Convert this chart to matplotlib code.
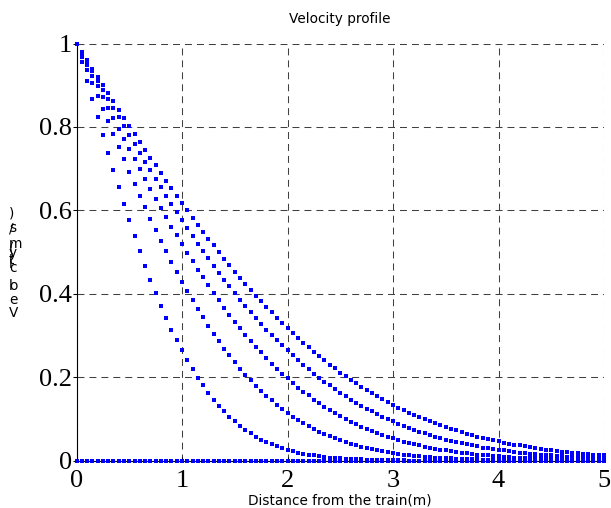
import matplotlib

matplotlib.use("Agg")
import matplotlib.pyplot as plt

plt.rcParams["font.family"] = ["DejaVu Sans"]
plt.rcParams["lines.scale_dashes"] = False

# distance from the train (m)
x_dist = [
    0.00, 0.05, 0.10, 0.15, 0.20, 0.25, 0.30, 0.35, 0.40, 0.45,
    0.50, 0.55, 0.60, 0.65, 0.70, 0.75, 0.80, 0.85, 0.90, 0.95,
    1.00, 1.05, 1.10, 1.15, 1.20, 1.25, 1.30, 1.35, 1.40, 1.45,
    1.50, 1.55, 1.60, 1.65, 1.70, 1.75, 1.80, 1.85, 1.90, 1.95,
    2.00, 2.05, 2.10, 2.15, 2.20, 2.25, 2.30, 2.35, 2.40, 2.45,
    2.50, 2.55, 2.60, 2.65, 2.70, 2.75, 2.80, 2.85, 2.90, 2.95,
    3.00, 3.05, 3.10, 3.15, 3.20, 3.25, 3.30, 3.35, 3.40, 3.45,
    3.50, 3.55, 3.60, 3.65, 3.70, 3.75, 3.80, 3.85, 3.90, 3.95,
    4.00, 4.05, 4.10, 4.15, 4.20, 4.25, 4.30, 4.35, 4.40, 4.45,
    4.50, 4.55, 4.60, 4.65, 4.70, 4.75, 4.80, 4.85, 4.90, 4.95,
    5.00,
]

# velocity profiles, one per time step
vel_0 = [
    0.000, 0.000, 0.000, 0.000, 0.000, 0.000, 0.000, 0.000, 0.000, 0.000,
    0.000, 0.000, 0.000, 0.000, 0.000, 0.000, 0.000, 0.000, 0.000, 0.000,
    0.000, 0.000, 0.000, 0.000, 0.000, 0.000, 0.000, 0.000, 0.000, 0.000,
    0.000, 0.000, 0.000, 0.000, 0.000, 0.000, 0.000, 0.000, 0.000, 0.000,
    0.000, 0.000, 0.000, 0.000, 0.000, 0.000, 0.000, 0.000, 0.000, 0.000,
    0.000, 0.000, 0.000, 0.000, 0.000, 0.000, 0.000, 0.000, 0.000, 0.000,
    0.000, 0.000, 0.000, 0.000, 0.000, 0.000, 0.000, 0.000, 0.000, 0.000,
    0.000, 0.000, 0.000, 0.000, 0.000, 0.000, 0.000, 0.000, 0.000, 0.000,
    0.000, 0.000, 0.000, 0.000, 0.000, 0.000, 0.000, 0.000, 0.000, 0.000,
    0.000, 0.000, 0.000, 0.000, 0.000, 0.000, 0.000, 0.000, 0.000, 0.000,
    0.000,
]
vel_1 = [
    1.000, 0.955, 0.911, 0.867, 0.823, 0.780, 0.737, 0.696, 0.655, 0.615,
    0.576, 0.539, 0.502, 0.467, 0.434, 0.402, 0.371, 0.342, 0.314, 0.288,
    0.264, 0.240, 0.219, 0.199, 0.180, 0.162, 0.146, 0.131, 0.118, 0.105,
    0.094, 0.083, 0.074, 0.065, 0.057, 0.050, 0.044, 0.039, 0.034, 0.029,
    0.025, 0.022, 0.019, 0.016, 0.014, 0.012, 0.010, 0.009, 0.007, 0.006,
    0.005, 0.004, 0.004, 0.003, 0.003, 0.002, 0.002, 0.001, 0.001, 0.001,
    0.001, 0.001, 0.001, 0.000, 0.000, 0.000, 0.000, 0.000, 0.000, 0.000,
    0.000, 0.000, 0.000, 0.000, 0.000, 0.000, 0.000, 0.000, 0.000, 0.000,
    0.000, 0.000, 0.000, 0.000, 0.000, 0.000, 0.000, 0.000, 0.000, 0.000,
    0.000, 0.000, 0.000, 0.000, 0.000, 0.000, 0.000, 0.000, 0.000, 0.000,
    0.000,
]
vel_2 = [
    1.000, 0.968, 0.937, 0.906, 0.874, 0.843, 0.813, 0.782, 0.752, 0.722,
    0.693, 0.664, 0.635, 0.607, 0.580, 0.553, 0.527, 0.502, 0.477, 0.453,
    0.429, 0.407, 0.385, 0.363, 0.343, 0.323, 0.304, 0.286, 0.268, 0.252,
    0.236, 0.220, 0.206, 0.192, 0.179, 0.167, 0.155, 0.144, 0.133, 0.123,
    0.114, 0.105, 0.097, 0.089, 0.082, 0.075, 0.069, 0.063, 0.058, 0.053,
    0.048, 0.044, 0.040, 0.036, 0.033, 0.030, 0.027, 0.024, 0.022, 0.020,
    0.018, 0.016, 0.014, 0.013, 0.011, 0.010, 0.009, 0.008, 0.007, 0.006,
    0.006, 0.005, 0.004, 0.004, 0.003, 0.003, 0.003, 0.002, 0.002, 0.002,
    0.002, 0.001, 0.001, 0.001, 0.001, 0.001, 0.001, 0.001, 0.000, 0.000,
    0.000, 0.000, 0.000, 0.000, 0.000, 0.000, 0.000, 0.000, 0.000, 0.000,
    0.000,
]
vel_3 = [
    1.000, 0.974, 0.949, 0.923, 0.897, 0.872, 0.846, 0.821, 0.796, 0.771,
    0.747, 0.723, 0.699, 0.675, 0.651, 0.628, 0.606, 0.583, 0.561, 0.540,
    0.519, 0.498, 0.478, 0.458, 0.439, 0.420, 0.401, 0.384, 0.366, 0.349,
    0.333, 0.317, 0.302, 0.287, 0.273, 0.259, 0.245, 0.232, 0.220, 0.208,
    0.197, 0.186, 0.175, 0.165, 0.156, 0.146, 0.138, 0.129, 0.121, 0.114,
    0.107, 0.100, 0.093, 0.087, 0.081, 0.076, 0.071, 0.066, 0.061, 0.057,
    0.053, 0.049, 0.045, 0.042, 0.039, 0.036, 0.033, 0.031, 0.028, 0.026,
    0.024, 0.022, 0.020, 0.018, 0.017, 0.015, 0.014, 0.013, 0.012, 0.011,
    0.010, 0.009, 0.008, 0.007, 0.007, 0.006, 0.006, 0.005, 0.005, 0.004,
    0.004, 0.003, 0.003, 0.003, 0.002, 0.002, 0.002, 0.002, 0.002, 0.001,
    0.001,
]
vel_4 = [
    1.000, 0.978, 0.955, 0.933, 0.911, 0.889, 0.867, 0.845, 0.823, 0.801,
    0.780, 0.759, 0.737, 0.716, 0.696, 0.675, 0.655, 0.635, 0.615, 0.595,
    0.576, 0.557, 0.539, 0.520, 0.502, 0.485, 0.467, 0.450, 0.434, 0.418,
    0.402, 0.386, 0.371, 0.356, 0.342, 0.328, 0.314, 0.301, 0.288, 0.276,
    0.264, 0.252, 0.240, 0.229, 0.219, 0.208, 0.199, 0.189, 0.180, 0.171,
    0.162, 0.154, 0.146, 0.139, 0.131, 0.124, 0.118, 0.111, 0.105, 0.099,
    0.094, 0.088, 0.083, 0.078, 0.074, 0.069, 0.065, 0.061, 0.057, 0.054,
    0.050, 0.047, 0.044, 0.041, 0.039, 0.036, 0.034, 0.031, 0.029, 0.027,
    0.025, 0.024, 0.022, 0.020, 0.019, 0.018, 0.016, 0.015, 0.014, 0.013,
    0.012, 0.011, 0.010, 0.009, 0.009, 0.008, 0.007, 0.007, 0.006, 0.006,
    0.005,
]
vel_5 = [
    1.000, 0.980, 0.960, 0.940, 0.920, 0.901, 0.881, 0.861, 0.841, 0.822,
    0.803, 0.783, 0.764, 0.745, 0.726, 0.708, 0.689, 0.671, 0.653, 0.635,
    0.617, 0.600, 0.582, 0.565, 0.549, 0.532, 0.516, 0.500, 0.484, 0.468,
    0.453, 0.438, 0.424, 0.409, 0.395, 0.382, 0.368, 0.355, 0.342, 0.330,
    0.317, 0.305, 0.294, 0.282, 0.271, 0.261, 0.250, 0.240, 0.230, 0.221,
    0.211, 0.202, 0.194, 0.185, 0.177, 0.169, 0.162, 0.154, 0.147, 0.140,
    0.134, 0.127, 0.121, 0.115, 0.110, 0.104, 0.099, 0.094, 0.089, 0.085,
    0.080, 0.076, 0.072, 0.068, 0.064, 0.061, 0.057, 0.054, 0.051, 0.048,
    0.046, 0.043, 0.040, 0.038, 0.036, 0.034, 0.032, 0.030, 0.028, 0.026,
    0.024, 0.023, 0.021, 0.020, 0.019, 0.018, 0.016, 0.015, 0.014, 0.013,
    0.012,
]

x_ticks = [0, 1, 2, 3, 4, 5]
x_tick_labels = ["0", "1", "2", "3", "4", "5"]
y_ticks = [0, 0.2, 0.4, 0.6, 0.8, 1.0]
y_tick_labels = ["0", "0.2", "0.4", "0.6", "0.8", "1"]

title_text = "Velocity profile"
xlabel_text = "Distance from the train(m)"

# the y label in the source comes out as upright letters stacked bottom-up
# (char, baseline in pixels from the top of the image)
ylabel_chars = [
    ("V", 317), ("e", 303.5), ("l", 290), ("o", 290), ("c", 272),
    ("i", 268), ("t", 264), ("y", 257.5), ("(", 253), ("m", 248.5),
    ("/", 232), ("s", 232), (")", 217.5),
]

W, H = 611, 508
fig = plt.figure(figsize=(W / 100, H / 100), dpi=100)
left, right, top, bottom = 76.5, 604, 43.5, 460.5
ax = fig.add_axes([left / W, (H - bottom) / H, (right - left) / W, (bottom - top) / H])

for series in [vel_0, vel_1, vel_2, vel_3, vel_4, vel_5]:
    ax.plot(
        x_dist,
        series,
        linestyle="none",
        marker="s",
        markersize=2.3,
        markeredgewidth=0,
        color="#0000ff",
        clip_on=False,
        zorder=3,
    )

ax.set_xlim(0, 5)
ax.set_ylim(0, 1)
ax.set_xticks(x_ticks)
ax.set_xticklabels(x_tick_labels)
ax.set_yticks(y_ticks)
ax.set_yticklabels(y_tick_labels)
for lab in ax.get_xticklabels() + ax.get_yticklabels():
    lab.set_fontfamily("Liberation Serif")
    lab.set_fontsize(19)

ax.grid(True, linestyle=(0, (5, 3.6)), color="0.25", linewidth=0.75)
ax.set_axisbelow(True)
for side in ["top", "right"]:
    ax.spines[side].set_visible(False)
for side in ["left", "bottom"]:
    ax.spines[side].set_linewidth(0.8)
    ax.spines[side].set_color("black")
ax.tick_params(axis="x", direction="in", length=3, width=0.75, top=False, pad=6.8)
ax.tick_params(axis="y", direction="out", length=3, width=0.75, right=False, pad=0.3)

fig.text(340 / W, 1 - 23.3 / H, title_text, ha="center", va="baseline", fontsize=9.8)
fig.text(339.5 / W, 1 - 504 / H, xlabel_text, ha="center", va="baseline", fontsize=9.8)
for ch, base in ylabel_chars:
    fig.text(9 / W, 1 - base / H, ch, ha="left", va="baseline", fontsize=9.8)

fig.savefig("out.png", dpi=100)
plt.close(fig)
